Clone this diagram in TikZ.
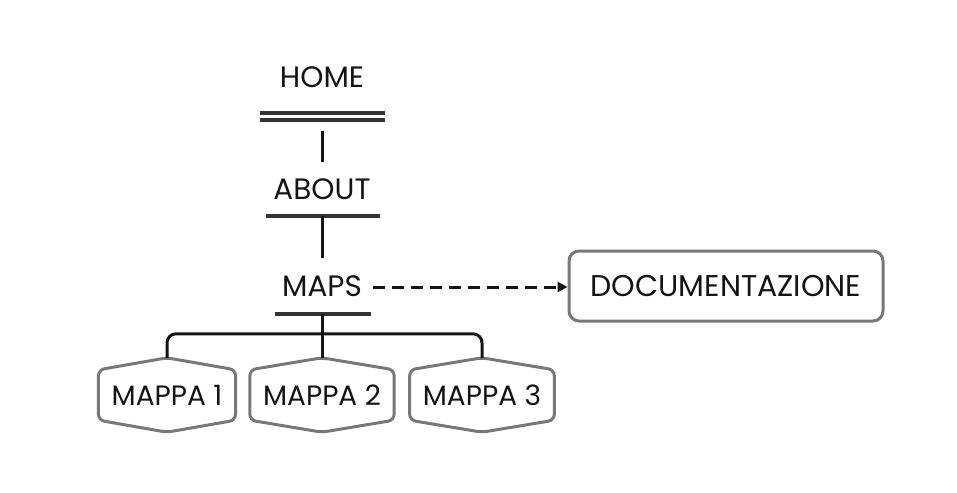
\documentclass[tikz,border=0pt]{standalone}
\usepackage{fontspec}
\setmainfont{Poppins}
\usepackage{xcolor}
\definecolor{tinta}{RGB}{20, 20, 20}
\definecolor{bordo}{RGB}{120, 120, 120}
\usepackage{tikz}
\usetikzlibrary{calc, positioning, arrows.meta}

\begin{document}
\begin{tikzpicture}[x=1pt, y=-1pt,
  page/.style={font=\fontsize{29.5}{33}\selectfont, text=tinta, inner sep=0pt},
  bar/.style={draw=black!80, line width=3.2pt},
  link/.style={draw=tinta, line width=3pt},
  doc/.style={rectangle, rounded corners=10pt, draw=bordo, line width=3pt, fill=white, font=\fontsize{30}{34}\selectfont, text=tinta, minimum width=314pt, minimum height=70pt},
  mappa/.style={rectangle, font=\fontsize{28}{32}\selectfont, text=tinta, inner xsep=13pt, minimum height=50pt},
  hexa/.style={draw=bordo, line width=3pt, rounded corners=6pt},
  arr/.style={-{Triangle[length=10pt, width=10pt]}, draw=tinta, line width=3pt, dash pattern=on 12pt off 7pt}
]
  \useasboundingbox (0,0) rectangle (957,492);

  % pagine del menu
  \node[page] (home) at (322,77) {HOME};
  \node[page] (about) at (322,189) {ABOUT};
  \node[page] (maps) at (322,286) {MAPS};
  \node[doc] (doc) at (726,286) {DOCUMENTAZIONE};

  \node[mappa] (m1) at (167,395) {MAPPA 1};
  \node[mappa] (m2) at (322,395) {MAPPA 2};
  \node[mappa] (m3) at (482,395) {MAPPA 3};

  % sottolineature
  \draw[bar] (260,113) -- (385,113);
  \draw[bar] (260,120) -- (385,120);
  \draw[bar] (266,216) -- (380,216);
  \draw[bar] (275,314) -- (371,314);

  \coordinate (homeS) at (322,131);
  \coordinate (aboutN) at (322,162);
  \coordinate (aboutS) at (322,216);
  \coordinate (mapsN) at (322,258);
  \coordinate (mapsS) at (322,314);
  \coordinate (mapsE) at (373,287);
  \coordinate (m1top) at ($(m1.north)+(0,-12)$);
  \coordinate (m2top) at ($(m2.north)+(0,-12)$);
  \coordinate (m3top) at ($(m3.north)+(0,-12)$);

  % esagoni
  \foreach \n in {m1,m2,m3} {
    \draw[hexa] (\n.north west) -- ($(\n.north)+(0,-12)$) -- (\n.north east)
      -- (\n.south east) -- ($(\n.south)+(0,12)$) -- (\n.south west) -- cycle;
  }

  \draw[link] (homeS) -- (aboutN);
  \draw[link] (aboutS) -- (mapsN);
  \draw[link] (mapsS) -- (m2top);
  \draw[link, rounded corners=9pt] (m1top) -- ++(0,-24) -| (m3top);
  \draw[arr] (mapsE) -- (doc.west |- mapsE);
\end{tikzpicture}
\end{document}
